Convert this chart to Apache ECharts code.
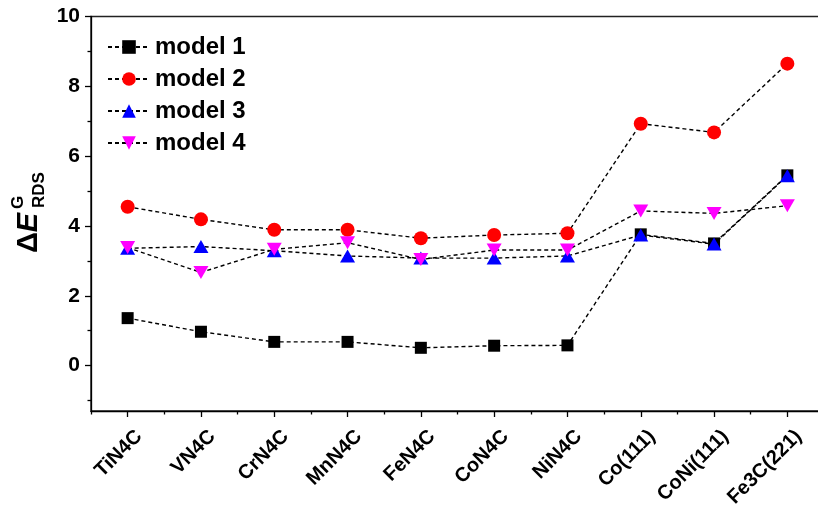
<!DOCTYPE html>
<html>
<head>
<meta charset="utf-8">
<script src="https://cdn.jsdelivr.net/npm/echarts@6/dist/echarts.min.js"></script>
<style>
  html, body { margin: 0; padding: 0; background: #fff; }
  #chart { width: 818px; height: 511px; }
</style>
</head>
<body>
<div id="chart"></div>
<script>
// Catalyst / surface labels along the x axis
const categories = ['TiN4C', 'VN4C', 'CrN4C', 'MnN4C', 'FeN4C', 'CoN4C', 'NiN4C', 'Co(111)', 'CoNi(111)', 'Fe3C(221)'];

// ΔE(G, RDS) for each model
const model1 = [1.36, 0.97, 0.68, 0.68, 0.51, 0.57, 0.58, 3.76, 3.50, 5.45];
const model2 = [4.55, 4.19, 3.89, 3.89, 3.65, 3.74, 3.79, 6.93, 6.68, 8.65];
const model3 = [3.36, 3.41, 3.29, 3.14, 3.08, 3.08, 3.14, 3.74, 3.48, 5.44];
const model4 = [3.38, 2.67, 3.33, 3.52, 3.04, 3.31, 3.31, 4.43, 4.36, 4.58];

// y axis ticks
const yMajorTicks = [0, 2, 4, 6, 8, 10];
const yMinorTicks = [-1, 1, 3, 5, 7, 9];

const FONT = '"Liberation Sans", Arial, sans-serif';
const dash = { color: '#000', width: 1.4, type: [4, 3] };

function lineSeries(name, data, symbol, size, color, rotate) {
  return {
    name: name,
    type: 'line',
    data: data,
    symbol: symbol,
    symbolSize: size,
    symbolRotate: rotate || 0,
    showAllSymbol: true,
    itemStyle: { color: color },
    lineStyle: dash,
    emphasis: { disabled: true },
    animation: false
  };
}

const chart = echarts.init(document.getElementById('chart'), null, { renderer: 'canvas' });

chart.setOption({
  backgroundColor: '#fff',
  animation: false,
  grid: {
    left: 91, right: -6, top: 16.5, bottom: 100,
    containLabel: false,
    outerBoundsMode: 'none',
    show: true, borderColor: '#222', borderWidth: 1.5, backgroundColor: 'transparent'
  },
  legend: {
    orient: 'vertical',
    left: 102,
    top: 30,
    itemWidth: 42,
    itemHeight: 17,
    itemGap: 8,
    selectedMode: false,
    textStyle: {
      fontFamily: FONT, fontWeight: 'bold', fontSize: 24, color: '#000',
      lineHeight: 24
    },
    data: ['model 1', 'model 2', 'model 3', 'model 4']
  },
  xAxis: [
    {
      type: 'category',
      data: categories,
      boundaryGap: true,
      axisLine: { show: true, onZero: false, lineStyle: { color: '#000', width: 1.3 } },
      axisTick: { show: true, alignWithLabel: true, interval: 0, length: 6, lineStyle: { color: '#000', width: 1.3 } },
      axisLabel: {
        interval: 0, rotate: 45, margin: 11,
        align: 'right', verticalAlign: 'top', lineHeight: 32,
        fontFamily: FONT, fontWeight: 'bold', fontSize: 20, color: '#000'
      },
      splitLine: { show: false }
    },
    {
      type: 'category',
      data: categories,
      position: 'bottom',
      boundaryGap: true,
      axisLine: { show: false, onZero: false },
      axisTick: { show: true, interval: 0, length: 3.5, lineStyle: { color: '#000', width: 1.3 } },
      axisLabel: { show: false },
      splitLine: { show: false }
    }
  ],
  yAxis: [
    {
      type: 'value',
      min: -1.3,
      max: 10,
      axisLine: { show: true, onZero: false, lineStyle: { color: '#000', width: 1.3 } },
      axisTick: { show: true, length: 6, customValues: yMajorTicks, lineStyle: { color: '#000', width: 1.3 } },
      axisLabel: {
        customValues: yMajorTicks, margin: 11,
        fontFamily: FONT, fontWeight: 'bold', fontSize: 21, color: '#000'
      },
      splitLine: { show: false }
    },
    {
      type: 'value',
      min: -1.3,
      max: 10,
      position: 'left',
      axisLine: { show: false, onZero: false },
      axisTick: { show: true, length: 3.5, customValues: yMinorTicks, lineStyle: { color: '#000', width: 1.3 } },
      axisLabel: { show: false },
      splitLine: { show: false }
    }
  ],
  graphic: [
    {
      type: 'text', x: 29, y: 253, rotation: Math.PI / 2,
      style: {
        text: '{d|Δ}{e|E}',
        align: 'left', verticalAlign: 'middle',
        rich: {
          d: { fontFamily: FONT, fontWeight: 'bold', fontSize: 29, fill: '#000' },
          e: { fontFamily: FONT, fontWeight: 'bold', fontStyle: 'italic', fontSize: 29, fill: '#000' }
        }
      }
    },
    {
      type: 'text', x: 18, y: 209, rotation: Math.PI / 2,
      style: { text: 'G', font: 'bold 17px ' + FONT, fill: '#000', align: 'left', verticalAlign: 'middle' }
    },
    {
      type: 'text', x: 39.5, y: 208, rotation: Math.PI / 2,
      style: { text: 'RDS', font: 'bold 17px ' + FONT, fill: '#000', align: 'left', verticalAlign: 'middle' }
    }
  ],
  series: [
    lineSeries('model 1', model1, 'rect', 12, '#000000'),
    lineSeries('model 2', model2, 'circle', 14, '#ff0000'),
    lineSeries('model 3', model3, 'triangle', [15, 13], '#0000ff'),
    lineSeries('model 4', model4, 'triangle', [15, 13], '#ff00ff', 180)
  ]
});
</script>
</body>
</html>
